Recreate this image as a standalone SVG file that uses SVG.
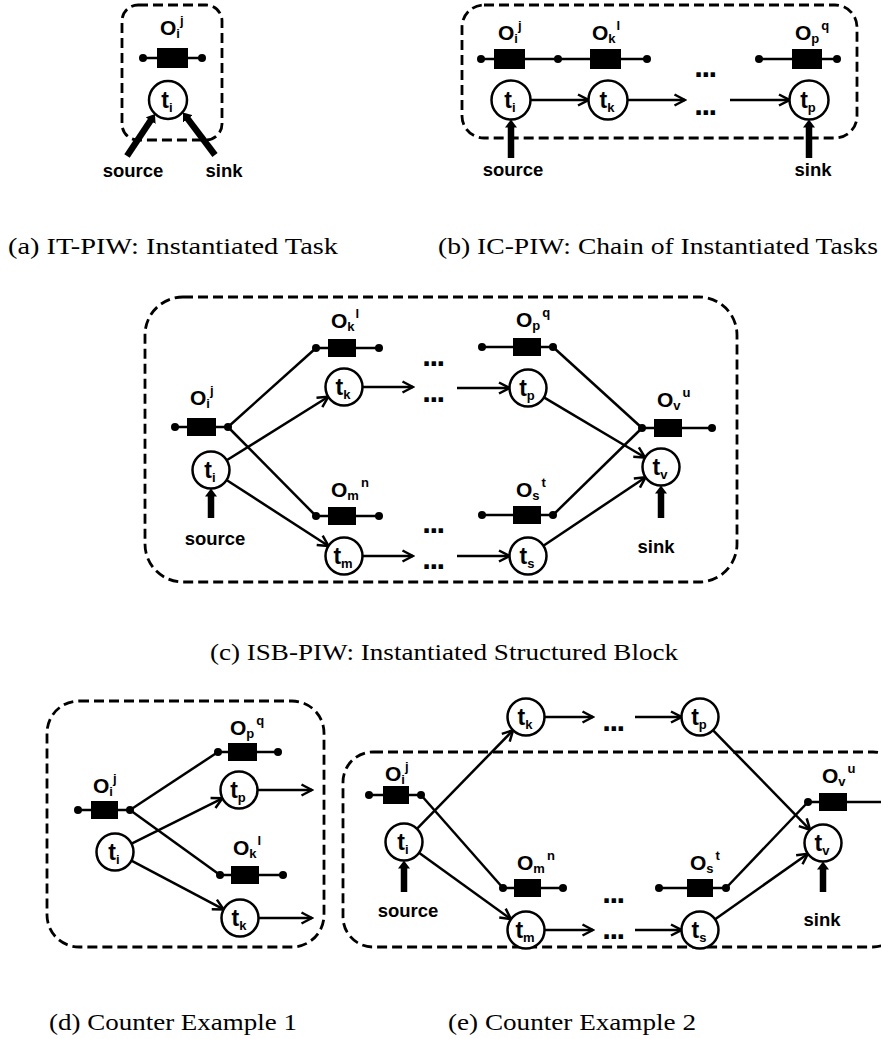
<svg xmlns="http://www.w3.org/2000/svg" width="881" height="1039" viewBox="0 0 881 1039">
<defs>
<style>
.dash{fill:none;stroke:#000;stroke-width:2.8;stroke-dasharray:10 5}
.ln{fill:none;stroke:#000;stroke-width:2.5}
.arr{fill:none;stroke:#000;stroke-width:2.5;marker-end:url(#ah)}
.thick{fill:none;stroke:#000;stroke-width:6.5;marker-end:url(#ahb)}
.task{fill:#fff;stroke:#000;stroke-width:2.5}
.blk{fill:#000}
.t{font-family:"Liberation Sans",Arial,sans-serif;font-weight:bold;font-size:23px;fill:#000}
.o{font-family:"Liberation Sans",Arial,sans-serif;font-weight:bold;font-size:21px;fill:#000}
.s{font-size:13px}
.lab{font-family:"Liberation Sans",Arial,sans-serif;font-weight:bold;font-size:18.5px;fill:#000}
.ell{font-family:"Liberation Sans",Arial,sans-serif;font-weight:bold;font-size:31px;letter-spacing:-1.5px;fill:#000}
.cap{font-family:"Liberation Serif","Times New Roman",serif;font-size:24px;fill:#000}
</style>
<marker id="ah" viewBox="0 0 14 14" refX="12.5" refY="7" markerWidth="14" markerHeight="14" markerUnits="userSpaceOnUse" orient="auto"><path d="M2,1.5 L12.5,7 L2,12.5" fill="none" stroke="#000" stroke-width="2.5"/></marker>
<marker id="ahb" viewBox="0 0 8 12" refX="1" refY="6" markerWidth="8" markerHeight="12" markerUnits="userSpaceOnUse" orient="auto"><path d="M0,0 L8,6 L0,12 z" fill="#000"/></marker>
</defs>
<rect width="881" height="1039" fill="#fff"/>

<!-- Panel (a) -->
<g id="panel-a">
<rect class="dash" x="122" y="5" width="100" height="135" rx="16"/>
<g id="a-connectors">
<line class="thick" x1="127" y1="156" x2="151.1" y2="119.8"/>
<line class="thick" x1="215" y1="155" x2="187.2" y2="118.1"/>
</g>
<g id="a-Oi"><line class="ln" x1="143" y1="58" x2="202" y2="58"/><rect class="blk" x="157" y="48" width="31" height="20"/><circle class="blk" cx="143" cy="58" r="4"/><circle class="blk" cx="202" cy="58" r="4"/>
<text class="o" x="160" y="35">O<tspan class="s" dy="3">i</tspan><tspan class="s" dy="-13">j</tspan></text></g>
<g id="a-ti"><circle class="task" cx="168" cy="100" r="19"/><text class="t" x="167" y="108" text-anchor="middle">t<tspan class="s" dy="4">i</tspan></text></g>
<text class="lab" x="133" y="177" text-anchor="middle">source</text>
<text class="lab" x="224" y="177" text-anchor="middle">sink</text>
</g>

<!-- Panel (b) -->
<g id="panel-b">
<rect class="dash" x="462" y="5" width="395" height="133" rx="22"/>
<g id="b-connectors">
<line class="arr" x1="530.5" y1="100" x2="588.5" y2="100"/>
<line class="arr" x1="627.5" y1="100" x2="685" y2="100"/>
<line class="arr" x1="730" y1="100" x2="789.5" y2="100"/>
<line class="thick" x1="511" y1="158" x2="511" y2="126.5"/>
<line class="thick" x1="809" y1="158" x2="809" y2="126.5"/>
</g>
<g id="b-Oi"><line class="ln" x1="481" y1="59" x2="558" y2="59"/><rect class="blk" x="494" y="49" width="31" height="20"/><circle class="blk" cx="481" cy="59" r="4"/>
<text class="o" x="498" y="40">O<tspan class="s" dy="3">i</tspan><tspan class="s" dy="-13">j</tspan></text></g>
<g id="b-Ok"><line class="ln" x1="558" y1="59" x2="647" y2="59"/><rect class="blk" x="590" y="49" width="31" height="20"/><circle class="blk" cx="558" cy="59" r="4"/><circle class="blk" cx="647" cy="59" r="4"/>
<text class="o" x="592" y="40">O<tspan class="s" dy="3">k</tspan><tspan class="s" dx="1" dy="-13">l</tspan></text></g>
<g id="b-Op"><line class="ln" x1="759" y1="59" x2="837" y2="59"/><rect class="blk" x="792" y="49" width="30" height="20"/><circle class="blk" cx="759" cy="59" r="4"/><circle class="blk" cx="837" cy="59" r="4"/>
<text class="o" x="795" y="40">O<tspan class="s" dy="3">p</tspan><tspan class="s" dx="2" dy="-13">q</tspan></text></g>
<g id="b-ti"><circle class="task" cx="511" cy="100" r="19.5"/><text class="t" x="510" y="108" text-anchor="middle">t<tspan class="s" dy="4">i</tspan></text></g>
<g id="b-tk"><circle class="task" cx="608" cy="100" r="19.5"/><text class="t" x="607" y="108" text-anchor="middle">t<tspan class="s" dy="4">k</tspan></text></g>
<g id="b-tp"><circle class="task" cx="809" cy="100" r="19.5"/><text class="t" x="808" y="108" text-anchor="middle">t<tspan class="s" dy="4">p</tspan></text></g>
<text class="ell" x="705" y="77" text-anchor="middle">...</text>
<text class="ell" x="705" y="115" text-anchor="middle">...</text>
<text class="lab" x="513" y="176" text-anchor="middle">source</text>
<text class="lab" x="813" y="176" text-anchor="middle">sink</text>
</g>

<!-- Panel (c) -->
<g id="panel-c">
<rect class="dash" x="145" y="297" width="592" height="285" rx="38"/>
<g id="c-connectors">
<line class="ln" x1="228" y1="427" x2="316" y2="348"/>
<line class="ln" x1="228" y1="427" x2="316" y2="516"/>
<line class="ln" x1="553" y1="347" x2="642" y2="428"/>
<line class="ln" x1="553" y1="515" x2="642" y2="428"/>
<line class="arr" x1="226.7" y1="460.2" x2="328.3" y2="396.8"/>
<line class="arr" x1="226.5" y1="480" x2="328.5" y2="546"/>
<line class="arr" x1="362.5" y1="387" x2="413" y2="387"/>
<line class="arr" x1="457" y1="388" x2="509.5" y2="388"/>
<line class="arr" x1="362.5" y1="556" x2="413" y2="556"/>
<line class="arr" x1="457" y1="556" x2="509.5" y2="556"/>
<line class="arr" x1="543.9" y1="397.4" x2="645.1" y2="457.5"/>
<line class="arr" x1="543.4" y1="545.7" x2="645.6" y2="477.3"/>
<line class="thick" x1="211" y1="518" x2="211" y2="495.5"/>
<line class="thick" x1="661" y1="518" x2="661" y2="492.5"/>
</g>
<g id="c-Oi"><line class="ln" x1="175" y1="427" x2="228" y2="427"/><rect class="blk" x="187" y="418" width="29" height="18"/><circle class="blk" cx="175" cy="427" r="4"/><circle class="blk" cx="228" cy="427" r="4"/>
<text class="o" x="190" y="405">O<tspan class="s" dy="3">i</tspan><tspan class="s" dy="-13">j</tspan></text></g>
<g id="c-Ok"><line class="ln" x1="316" y1="348" x2="379" y2="348"/><rect class="blk" x="328" y="339" width="28" height="18"/><circle class="blk" cx="316" cy="348" r="4"/><circle class="blk" cx="379" cy="348" r="4"/>
<text class="o" x="331" y="328">O<tspan class="s" dy="3">k</tspan><tspan class="s" dx="1" dy="-13">l</tspan></text></g>
<g id="c-Om"><line class="ln" x1="316" y1="516" x2="379" y2="516"/><rect class="blk" x="328" y="507" width="28" height="18"/><circle class="blk" cx="316" cy="516" r="4"/><circle class="blk" cx="379" cy="516" r="4"/>
<text class="o" x="331" y="497">O<tspan class="s" dy="3">m</tspan><tspan class="s" dx="2" dy="-13">n</tspan></text></g>
<g id="c-Op"><line class="ln" x1="482" y1="347" x2="553" y2="347"/><rect class="blk" x="513" y="338" width="28" height="18"/><circle class="blk" cx="482" cy="347" r="4"/><circle class="blk" cx="553" cy="347" r="4"/>
<text class="o" x="516" y="327">O<tspan class="s" dy="3">p</tspan><tspan class="s" dx="2" dy="-13">q</tspan></text></g>
<g id="c-Os"><line class="ln" x1="482" y1="515" x2="553" y2="515"/><rect class="blk" x="513" y="506" width="28" height="18"/><circle class="blk" cx="482" cy="515" r="4"/><circle class="blk" cx="553" cy="515" r="4"/>
<text class="o" x="516" y="497">O<tspan class="s" dy="3">s</tspan><tspan class="s" dx="2" dy="-13">t</tspan></text></g>
<g id="c-Ov"><line class="ln" x1="642" y1="428" x2="712" y2="428"/><rect class="blk" x="654" y="419" width="28" height="18"/><circle class="blk" cx="642" cy="428" r="4"/><circle class="blk" cx="712" cy="428" r="4"/>
<text class="o" x="657" y="407">O<tspan class="s" dy="3">v</tspan><tspan class="s" dx="2" dy="-13">u</tspan></text></g>
<g id="c-ti"><circle class="task" cx="211" cy="470" r="18.5"/><text class="t" x="210" y="478" text-anchor="middle">t<tspan class="s" dy="4">i</tspan></text></g>
<g id="c-tk"><circle class="task" cx="344" cy="387" r="18.5"/><text class="t" x="343" y="395" text-anchor="middle">t<tspan class="s" dy="4">k</tspan></text></g>
<g id="c-tm"><circle class="task" cx="344" cy="556" r="18.5"/><text class="t" x="343" y="564" text-anchor="middle">t<tspan class="s" dy="4">m</tspan></text></g>
<g id="c-tp"><circle class="task" cx="528" cy="388" r="18.5"/><text class="t" x="527" y="396" text-anchor="middle">t<tspan class="s" dy="4">p</tspan></text></g>
<g id="c-ts"><circle class="task" cx="528" cy="556" r="18.5"/><text class="t" x="527" y="564" text-anchor="middle">t<tspan class="s" dy="4">s</tspan></text></g>
<g id="c-tv"><circle class="task" cx="661" cy="467" r="18.5"/><text class="t" x="660" y="475" text-anchor="middle">t<tspan class="s" dy="4">v</tspan></text></g>
<text class="ell" x="433" y="366" text-anchor="middle">...</text>
<text class="ell" x="433" y="402" text-anchor="middle">...</text>
<text class="ell" x="433" y="533" text-anchor="middle">...</text>
<text class="ell" x="433" y="569" text-anchor="middle">...</text>
<text class="lab" x="215" y="545" text-anchor="middle">source</text>
<text class="lab" x="656" y="553" text-anchor="middle">sink</text>
</g>

<!-- Panel (d) -->
<g id="panel-d">
<rect class="dash" x="47" y="701" width="277" height="246" rx="32"/>
<g id="d-connectors">
<line class="ln" x1="130" y1="810" x2="218" y2="752"/>
<line class="ln" x1="130" y1="810" x2="220" y2="875"/>
<line class="arr" x1="131.6" y1="843.7" x2="222.4" y2="798.3"/>
<line class="arr" x1="131.4" y1="860.6" x2="223.6" y2="909.4"/>
<line class="arr" x1="257.5" y1="790" x2="312" y2="790"/>
<line class="arr" x1="258.5" y1="918" x2="312" y2="918"/>
</g>
<g id="d-Oi"><line class="ln" x1="78" y1="810" x2="130" y2="810"/><rect class="blk" x="91" y="801" width="27" height="18"/><circle class="blk" cx="78" cy="810" r="4"/><circle class="blk" cx="130" cy="810" r="4"/>
<text class="o" x="93" y="793">O<tspan class="s" dy="3">i</tspan><tspan class="s" dy="-13">j</tspan></text></g>
<g id="d-Op"><line class="ln" x1="218" y1="752" x2="278" y2="752"/><rect class="blk" x="228" y="743" width="29" height="18"/><circle class="blk" cx="218" cy="752" r="4"/><circle class="blk" cx="278" cy="752" r="4"/>
<text class="o" x="230" y="735">O<tspan class="s" dy="3">p</tspan><tspan class="s" dx="2" dy="-13">q</tspan></text></g>
<g id="d-Ok"><line class="ln" x1="220" y1="875" x2="283" y2="875"/><rect class="blk" x="231" y="866" width="28" height="18"/><circle class="blk" cx="220" cy="875" r="4"/><circle class="blk" cx="283" cy="875" r="4"/>
<text class="o" x="233" y="855">O<tspan class="s" dy="3">k</tspan><tspan class="s" dx="1" dy="-13">l</tspan></text></g>
<g id="d-ti"><circle class="task" cx="115" cy="852" r="18.5"/><text class="t" x="114" y="860" text-anchor="middle">t<tspan class="s" dy="4">i</tspan></text></g>
<g id="d-tp"><circle class="task" cx="239" cy="790" r="18.5"/><text class="t" x="238" y="798" text-anchor="middle">t<tspan class="s" dy="4">p</tspan></text></g>
<g id="d-tk"><circle class="task" cx="240" cy="918" r="18.5"/><text class="t" x="239" y="926" text-anchor="middle">t<tspan class="s" dy="4">k</tspan></text></g>
</g>

<!-- Panel (e) -->
<g id="panel-e">
<rect class="dash" x="343" y="752" width="560" height="195" rx="30"/>
<g id="e-connectors">
<line class="ln" x1="421" y1="795" x2="503" y2="888"/>
<line class="ln" x1="726" y1="888" x2="808" y2="802"/>
<line class="arr" x1="416.9" y1="828.8" x2="513.1" y2="730.2"/>
<line class="arr" x1="419" y1="852.8" x2="511" y2="919.2"/>
<line class="arr" x1="544.5" y1="717" x2="593" y2="717"/>
<line class="arr" x1="635" y1="717" x2="681.5" y2="717"/>
<line class="arr" x1="544.5" y1="930" x2="593" y2="930"/>
<line class="arr" x1="635" y1="930" x2="681.5" y2="930"/>
<line class="arr" x1="712.9" y1="730.2" x2="810.1" y2="829.8"/>
<line class="arr" x1="715.1" y1="919.3" x2="807.9" y2="853.7"/>
<line class="thick" x1="404" y1="892" x2="404" y2="867.5"/>
<line class="thick" x1="823" y1="892" x2="823" y2="868.5"/>
</g>
<g id="e-Oi"><line class="ln" x1="369" y1="795" x2="421" y2="795"/><rect class="blk" x="383" y="786" width="26" height="18"/><circle class="blk" cx="369" cy="795" r="4"/><circle class="blk" cx="421" cy="795" r="4"/>
<text class="o" x="385" y="781">O<tspan class="s" dy="3">i</tspan><tspan class="s" dy="-13">j</tspan></text></g>
<g id="e-Om"><line class="ln" x1="503" y1="888" x2="563" y2="888"/><rect class="blk" x="514" y="879" width="27" height="18"/><circle class="blk" cx="503" cy="888" r="4"/><circle class="blk" cx="563" cy="888" r="4"/>
<text class="o" x="517" y="870">O<tspan class="s" dy="3">m</tspan><tspan class="s" dx="2" dy="-13">n</tspan></text></g>
<g id="e-Os"><line class="ln" x1="659" y1="888" x2="726" y2="888"/><rect class="blk" x="687" y="879" width="26" height="18"/><circle class="blk" cx="659" cy="888" r="4"/><circle class="blk" cx="726" cy="888" r="4"/>
<text class="o" x="690" y="870">O<tspan class="s" dy="3">s</tspan><tspan class="s" dx="2" dy="-13">t</tspan></text></g>
<g id="e-Ov"><line class="ln" x1="808" y1="802" x2="895" y2="802"/><rect class="blk" x="819" y="793" width="28" height="18"/><circle class="blk" cx="808" cy="802" r="4"/>
<text class="o" x="822" y="783">O<tspan class="s" dy="3">v</tspan><tspan class="s" dx="2" dy="-13">u</tspan></text></g>
<g id="e-ti"><circle class="task" cx="404" cy="842" r="18.5"/><text class="t" x="403" y="850" text-anchor="middle">t<tspan class="s" dy="4">i</tspan></text></g>
<g id="e-tk"><circle class="task" cx="526" cy="717" r="18.5"/><text class="t" x="525" y="725" text-anchor="middle">t<tspan class="s" dy="4">k</tspan></text></g>
<g id="e-tm"><circle class="task" cx="526" cy="930" r="18.5"/><text class="t" x="525" y="938" text-anchor="middle">t<tspan class="s" dy="4">m</tspan></text></g>
<g id="e-tp"><circle class="task" cx="700" cy="717" r="18.5"/><text class="t" x="699" y="725" text-anchor="middle">t<tspan class="s" dy="4">p</tspan></text></g>
<g id="e-ts"><circle class="task" cx="700" cy="930" r="18.5"/><text class="t" x="699" y="938" text-anchor="middle">t<tspan class="s" dy="4">s</tspan></text></g>
<g id="e-tv"><circle class="task" cx="823" cy="843" r="18.5"/><text class="t" x="822" y="851" text-anchor="middle">t<tspan class="s" dy="4">v</tspan></text></g>
<text class="ell" x="613" y="731" text-anchor="middle">...</text>
<text class="ell" x="613" y="903" text-anchor="middle">...</text>
<text class="ell" x="613" y="939" text-anchor="middle">...</text>
<text class="lab" x="408" y="917" text-anchor="middle">source</text>
<text class="lab" x="822" y="926" text-anchor="middle">sink</text>
</g>

<!-- Captions -->
<g id="captions">
<text class="cap" x="8" y="254" textLength="330" lengthAdjust="spacingAndGlyphs">(a) IT-PIW: Instantiated Task</text>
<text class="cap" x="438" y="254" textLength="440" lengthAdjust="spacingAndGlyphs">(b) IC-PIW: Chain of Instantiated Tasks</text>
<text class="cap" x="210" y="660" textLength="468" lengthAdjust="spacingAndGlyphs">(c) ISB-PIW: Instantiated Structured Block</text>
<text class="cap" x="49" y="1030" textLength="248" lengthAdjust="spacingAndGlyphs">(d) Counter Example 1</text>
<text class="cap" x="448" y="1030" textLength="248" lengthAdjust="spacingAndGlyphs">(e) Counter Example 2</text>
</g>
</svg>
